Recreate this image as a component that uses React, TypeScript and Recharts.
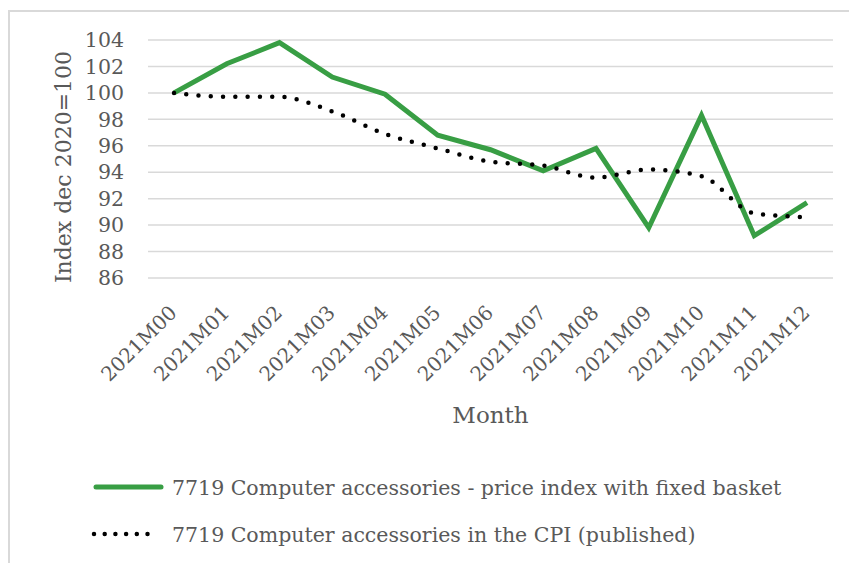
import { Label, Legend, Line, LineChart, XAxis, YAxis, CartesianGrid } from "recharts";

const months = [
  "2021M00", "2021M01", "2021M02", "2021M03", "2021M04", "2021M05", "2021M06",
  "2021M07", "2021M08", "2021M09", "2021M10", "2021M11", "2021M12",
];
const fixedBasket = [100, 102.2, 103.8, 101.2, 99.9, 96.8, 95.7, 94.1, 95.8, 89.8, 98.3, 89.2, 91.7];
const cpiPublished = [100, 99.7, 99.7, 98.6, 96.9, 95.8, 94.8, 94.5, 93.6, 94.2, 93.7, 90.9, 90.6];
const yTicks = [86, 88, 90, 92, 94, 96, 98, 100, 102, 104];

const fixedName = "7719 Computer accessories - price index with fixed basket";
const cpiName = "7719 Computer accessories in the CPI (published)";

const data = months.map((m, i) => ({ month: m, fixed: fixedBasket[i], cpi: cpiPublished[i] }));

const font = "'DejaVu Serif', serif";
const textColor = "#595959";
const green = "#389e44";

const MonthTick = (props: any) => {
  const { x, y, payload } = props;
  return (
    <g transform={`translate(${x + 4},${y + 36})`}>
      <text textAnchor="end" transform="rotate(-45)" fill={textColor} fontSize={20} fontFamily={font}>
        {payload.value}
      </text>
    </g>
  );
};

const LegendRows = (props: any) => {
  const items = props.payload || [];
  return (
    <svg width={839} height={90}>
      {items.map((it: any, i: number) => {
        const cy = 20 + i * 47;
        const dotted = it.dataKey === "cpi";
        return (
          <g key={i}>
            <line
              x1={dotted ? 84 : 86}
              x2={dotted ? 148 : 151}
              y1={cy}
              y2={cy}
              stroke={dotted ? "#000" : green}
              strokeWidth={dotted ? 4.5 : 5}
              strokeLinecap="round"
              strokeDasharray={dotted ? "0 10.7" : undefined}
            />
            <text x={162} y={cy + 8} fill={textColor} fontSize={20.5} fontFamily={font}>
              {it.value}
            </text>
          </g>
        );
      })}
    </svg>
  );
};

export default function App() {
  return (
    <div
      style={{
        position: "absolute",
        left: 8,
        top: 10,
        width: 841,
        height: 553,
        boxSizing: "border-box",
        borderLeft: "2px solid #d9d9d9",
        borderTop: "2px solid #d9d9d9",
        background: "#fff",
      }}
    >
      <LineChart width={839} height={551} data={data} margin={{ top: 28, right: 16, left: 0, bottom: 0 }}>
        <CartesianGrid vertical={false} stroke="#d9d9d9" strokeWidth={1.5} />
        <XAxis
          dataKey="month"
          height={285}
          padding={{ left: 26, right: 26 }}
          axisLine={false}
          tickLine={false}
          tickSize={0}
          tickMargin={0}
          interval={0}
          tick={<MonthTick />}
        >
          <Label
            content={(p: any) => {
              const vb = p.viewBox || {};
              return (
                <text
                  x={480.5}
                  y={411}
                  textAnchor="middle"
                  fill={textColor}
                  fontSize={23}
                  fontFamily={font}
                >
                  Month
                </text>
              );
            }}
          />
        </XAxis>
        <YAxis
          width={138}
          domain={[86, 104]}
          ticks={yTicks}
          interval={0}
          axisLine={false}
          tickLine={false}
          tickSize={0}
          tickMargin={24}
          tick={{ fill: textColor, fontSize: 20.5, fontFamily: font }}
        >
          <Label
            content={() => (
              <text
                x={53}
                y={155}
                transform="rotate(-90, 53, 155)"
                textAnchor="middle"
                dominantBaseline="central"
                fill={textColor}
                fontSize={22}
                fontFamily={font}
              >
                Index dec 2020=100
              </text>
            )}
          />
        </YAxis>
        <Line
          dataKey="fixed"
          name={fixedName}
          type="linear"
          stroke={green}
          strokeWidth={5}
          dot={false}
          activeDot={false}
          isAnimationActive={false}
        />
        <Line
          dataKey="cpi"
          name={cpiName}
          type="monotone"
          stroke="#000"
          strokeWidth={4.5}
          strokeDasharray="0 12.3"
          strokeLinecap="round"
          dot={false}
          activeDot={false}
          isAnimationActive={false}
        />
        <Legend
          layout="horizontal"
          verticalAlign="middle"
          align="center"
          wrapperStyle={{ top: 455, left: 0, width: 839, height: 90 }}
          content={<LegendRows />}
        />
      </LineChart>
    </div>
  );
}
